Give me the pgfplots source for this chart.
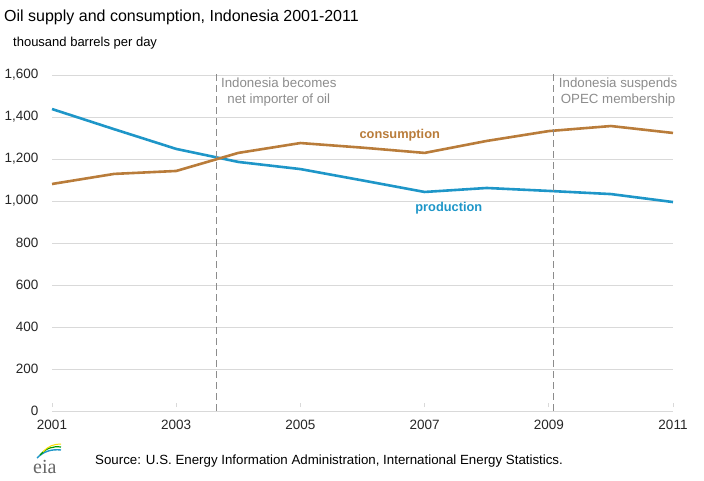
\documentclass[border=0pt]{standalone}
\usepackage{pgfplots}
\pgfplotsset{compat=1.18}
\usepackage{fontspec}
\setmainfont{Liberation Sans}
\newfontfamily\logofont{Liberation Serif}
\definecolor{prod}{HTML}{1E96C8}
\definecolor{cons}{HTML}{B97C3A}
\definecolor{gridc}{HTML}{D9D9D9}
\definecolor{annot}{HTML}{8C8C8C}
\begin{document}
\begin{tikzpicture}
\path (0pt,0pt) rectangle (704pt,-481pt);
\node[anchor=base west,font=\fontsize{16}{18}\selectfont, inner sep=0pt] at (4pt,-22pt) {Oil supply and consumption, Indonesia 2001-2011};
\node[anchor=base west,font=\fontsize{13}{15}\selectfont, inner sep=0pt] at (13pt,-47pt) {thousand barrels per day};
\begin{axis}[
  at={(52pt,-411pt)}, anchor=south west,
  scale only axis, width=621pt, height=336pt,
  xmin=2001, xmax=2011, ymin=0, ymax=1600,
  xtick={2001,2003,...,2011},
  ytick={0,200,...,1600},
  /pgf/number format/assume math mode=true,
  tick label style={font=\fontsize{13.5}{15}\selectfont, text=black!85},
  xticklabel style={yshift=-6pt, /pgf/number format/1000 sep={}},
  yticklabel style={xshift=-10pt},
  axis x line*=bottom, axis y line*=left,
  axis line style={gridc, line width=1pt},
  x axis line style={-},
  y axis line style={draw=none},
  ymajorgrids, grid style={gridc, line width=0.8pt},
  major tick length=4pt,
  xtick style={gridc, line width=0.8pt, yshift=4pt},
  ytick style={draw=none},
  clip=false,
]
\addplot[prod, line width=2.6pt] coordinates {
(2001,1438) (2002,1342) (2003,1248) (2004,1186) (2005,1152)
(2006,1098) (2007,1043) (2008,1062) (2009,1048) (2010,1033) (2011,995)
};
\addplot[cons, line width=2.6pt] coordinates {
(2001,1081) (2002,1129) (2003,1143) (2004,1229) (2005,1276)
(2006,1254) (2007,1229) (2008,1286) (2009,1333) (2010,1357) (2011,1324)
};
\draw[annot, dash pattern=on 7pt off 4pt, line width=0.8pt] (axis cs:2003.64,0) -- (axis cs:2003.64,1612);
\draw[annot, dash pattern=on 7pt off 4pt, line width=0.8pt] (axis cs:2009.08,0) -- (axis cs:2009.08,1612);
\node[anchor=north west, align=center, annot, font=\fontsize{13.3}{16}\selectfont, inner sep=0pt] at (axis cs:2003.72,1585) {Indonesia becomes\\net importer of oil};
\node[anchor=north west, align=center, annot, font=\fontsize{13.3}{16}\selectfont, inner sep=0pt] at (axis cs:2009.16,1585) {Indonesia suspends\\OPEC membership};
\node[cons, font=\bfseries\fontsize{12.8}{14}\selectfont] at (axis cs:2006.60,1314) {consumption};
\node[prod, font=\bfseries\fontsize{12.8}{14}\selectfont] at (axis cs:2007.39,967) {production};
\end{axis}
\node[anchor=base west,font=\fontsize{13.3}{15}\selectfont, inner sep=0pt] at (95pt,-464pt) {Source: U.S. Energy Information Administration, International Energy Statistics.};
\node[anchor=base west,font=\logofont\fontsize{20}{20}\selectfont, text=black!60, inner sep=0pt] at (33pt,-473pt) {eia};
\draw[prod, line width=1.4pt] (37pt,-458pt) .. controls (44pt,-451pt) and (52pt,-449pt) .. (61pt,-450pt);
\draw[green!60!black, line width=1.2pt] (40pt,-455pt) .. controls (46pt,-448pt) and (53pt,-446pt) .. (61pt,-447pt);
\draw[yellow!80!orange, line width=1pt] (43pt,-452pt) .. controls (48pt,-446pt) and (54pt,-444pt) .. (61pt,-444pt);
\end{tikzpicture}
\end{document}
